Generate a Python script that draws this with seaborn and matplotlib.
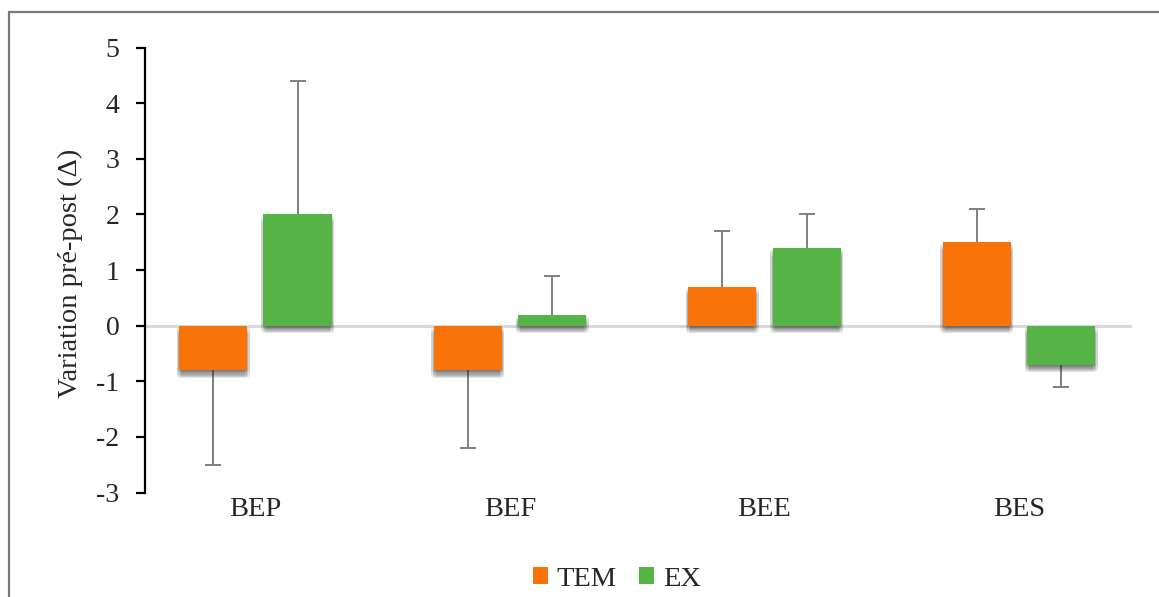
import matplotlib
matplotlib.use("Agg")
import matplotlib.pyplot as plt
import matplotlib.patheffects as pe
from matplotlib.lines import Line2D
from matplotlib.patches import Patch
import pandas as pd
import seaborn as sns

# Pre-post variation per indicator and group, with one-sided SD
categories = ["BEP", "BEF", "BEE", "BES"]
groups = ["TEM", "EX"]
tem_values = [-0.8, -0.8, 0.7, 1.5]
ex_values = [2.0, 0.2, 1.4, -0.7]
tem_sd = [1.7, 1.4, 1.0, 0.6]
ex_sd = [2.4, 0.7, 0.6, 0.4]
y_ticks = [-3, -2, -1, 0, 1, 2, 3, 4, 5]

colors = {"TEM": "#FA730A", "EX": "#56B447"}

df = pd.DataFrame({
    "indicateur": categories * 2,
    "groupe": ["TEM"] * len(categories) + ["EX"] * len(categories),
    "variation": tem_values + ex_values,
})
sd_by_group = {"TEM": tem_sd, "EX": ex_sd}
val_by_group = {"TEM": tem_values, "EX": ex_values}

sns.set_style("white")
plt.rcParams["font.family"] = ["Liberation Serif", "DejaVu Serif"]
plt.rcParams["axes.unicode_minus"] = False

W, H = 1159, 597
fig = plt.figure(figsize=(W / 100, H / 100), dpi=100)
ax = fig.add_axes([145 / W, 1 - 492.5 / H, 987 / W, 445 / H])

ax.axhline(0, color="#d9d9d9", lw=2.2, zorder=0.8)

sns.barplot(data=df, x="indicateur", y="variation", hue="groupe",
            hue_order=groups, order=categories, palette=colors,
            width=0.664, gap=0.19, errorbar=None, legend=False,
            saturation=1, ax=ax)

# soft drop shadow under each bar (stacked offsets fake a blur)
shadow = [pe.SimplePatchShadow(offset=(dx, -0.8 * k), shadow_rgbFace="#303030",
                               alpha=0.03)
          for k in range(1, 8) for dx in (-1.5, -0.5, 0.5, 1.5)]
err_color = "#808080"
for cont, g in zip(ax.containers, groups):
    for bar, v, s in zip(cont, val_by_group[g], sd_by_group[g]):
        bar.set_path_effects(shadow + [pe.Normal()])
        bar.set_edgecolor("none")
        bar.set_zorder(3)
        x = bar.get_x() + bar.get_width() / 2
        # one-sided error bar, pointing away from zero, cap only at the far end
        direction = 1 if v >= 0 else -1
        yerr = [[0], [s]] if v >= 0 else [[s], [0]]
        ax.errorbar([x], [v], yerr=yerr, fmt="none", ecolor=err_color,
                    elinewidth=1.4, capsize=0, zorder=1)
        ax.plot([x], [v + direction * s], marker="_", ms=12, mew=1.4,
                color=err_color, zorder=1)

ax.set_ylim(-3, 5)
ax.set_xlim(-0.434, 3.444)
ax.set_yticks(y_ticks)
ax.set_yticklabels([str(t) for t in y_ticks])
ax.set_xlabel("")
ax.set_ylabel("Variation pré-post (Δ)", fontsize=20.5)
ax.yaxis.set_label_coords(-0.063, 0.493)

for side in ["top", "right", "bottom"]:
    ax.spines[side].set_visible(False)
ax.spines["left"].set_color("black")
ax.spines["left"].set_linewidth(1.6)
ax.tick_params(axis="y", direction="out", length=6.5, width=1.6, color="black",
               labelsize=20, pad=12, left=True)
ax.tick_params(axis="x", length=0, labelsize=20.5, pad=3)

handles = [Patch(facecolor=colors[g], edgecolor="none", label=g) for g in groups]
fig.legend(handles=handles, loc="center", bbox_to_anchor=(617 / W, 1 - 579 / H),
           ncol=2, frameon=False, fontsize=20.5, handlelength=0.52, handleheight=0.52,
           handletextpad=0.3, columnspacing=0.8)

# outer frame
frame_kw = dict(color="#7a7a7a", lw=1.6, transform=fig.transFigure)
fig.add_artist(Line2D([9 / W, 1], [1 - 12 / H, 1 - 12 / H], **frame_kw))
fig.add_artist(Line2D([9 / W, 9 / W], [0, 1 - 12 / H], **frame_kw))

fig.savefig("out.png", dpi=100, facecolor="white")
